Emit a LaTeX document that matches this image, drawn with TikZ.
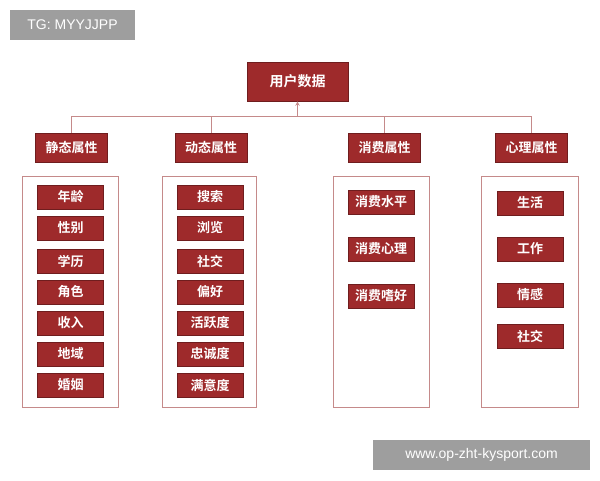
\documentclass[tikz,border=0pt]{standalone}
\usepackage{fontspec}
\newfontfamily\cjk{Noto Sans CJK SC}[BoldFont={Noto Sans CJK SC Bold}]
\setsansfont{Liberation Sans}
\definecolor{dr}{HTML}{9E2A2B}
\definecolor{pk}{HTML}{C58A8A}
\begin{document}
\begin{tikzpicture}[x=1pt,y=-1pt,
 box/.style={fill=dr,draw=dr!70!black,line width=0.6pt,text=white,font=\cjk\bfseries\fontsize{13}{13}\selectfont,inner sep=0pt,minimum height=24pt,minimum width=66pt},
 cat/.style={box,minimum width=72pt,minimum height=29pt},
 outer/.style={draw=pk,line width=1pt,fill=none,inner sep=0pt},
 ln/.style={draw=pk,line width=1pt},
 wm/.style={fill=black!38,text=white,font=\sffamily\fontsize{14}{14}\selectfont,inner sep=0pt}]
\useasboundingbox (0,0) rectangle (600,480);
\node[box,minimum width=101pt,minimum height=39pt,font=\cjk\bfseries\fontsize{14}{14}\selectfont] (top) at (297.5,81.5) {用户数据};
\node[cat] (c1) at (71.5,147.5) {静态属性};
\node[cat] (c2) at (211,147.5) {动态属性};
\node[cat] (c3) at (384.5,147.5) {消费属性};
\node[cat] (c4) at (531.5,147.5) {心理属性};
\coordinate (h1) at (71.5,116); \coordinate (h4) at (531.5,116);
\coordinate (hm) at (297.5,116);
\draw[ln] (h1) -- (h4);
\foreach \c in {c1,c2,c3,c4} \draw[ln] (\c.north |- hm) -- (\c.north);
\draw[ln,->,>=stealth] (hm) -- (top.south);
\node[outer,minimum width=96pt,minimum height=231pt] (o1) at (70,291.5) {};
\node[outer,minimum width=94pt,minimum height=231pt] (o2) at (209,291.5) {};
\node[outer,minimum width=96pt,minimum height=231pt] (o3) at (381,291.5) {};
\node[outer,minimum width=97pt,minimum height=231pt] (o4) at (529.5,291.5) {};
\foreach \t/\y [count=\i] in {年龄/197,性别/228,学历/261,角色/292,收入/323,地域/354,婚姻/385}
  \node[box] (a\i) at (70.5,\y) {\t};
\foreach \t/\y [count=\i] in {搜索/197,浏览/228,社交/261,偏好/292,活跃度/323,忠诚度/354,满意度/385}
  \node[box] (b\i) at (210,\y) {\t};
\foreach \t/\y [count=\i] in {消费水平/202,消费心理/249,消费嗜好/296}
  \node[box] (d\i) at (381,\y) {\t};
\foreach \t/\y [count=\i] in {生活/203,工作/249,情感/295,社交/336}
  \node[box] (e\i) at (530,\y) {\t};
\node[wm,minimum width=125pt,minimum height=30pt] (w1) at (72.5,25) {TG: MYYJJPP};
\node[wm,minimum width=217pt,minimum height=30pt] (w2) at (481.5,455) {www.op-zht-kysport.com};
\end{tikzpicture}
\end{document}
